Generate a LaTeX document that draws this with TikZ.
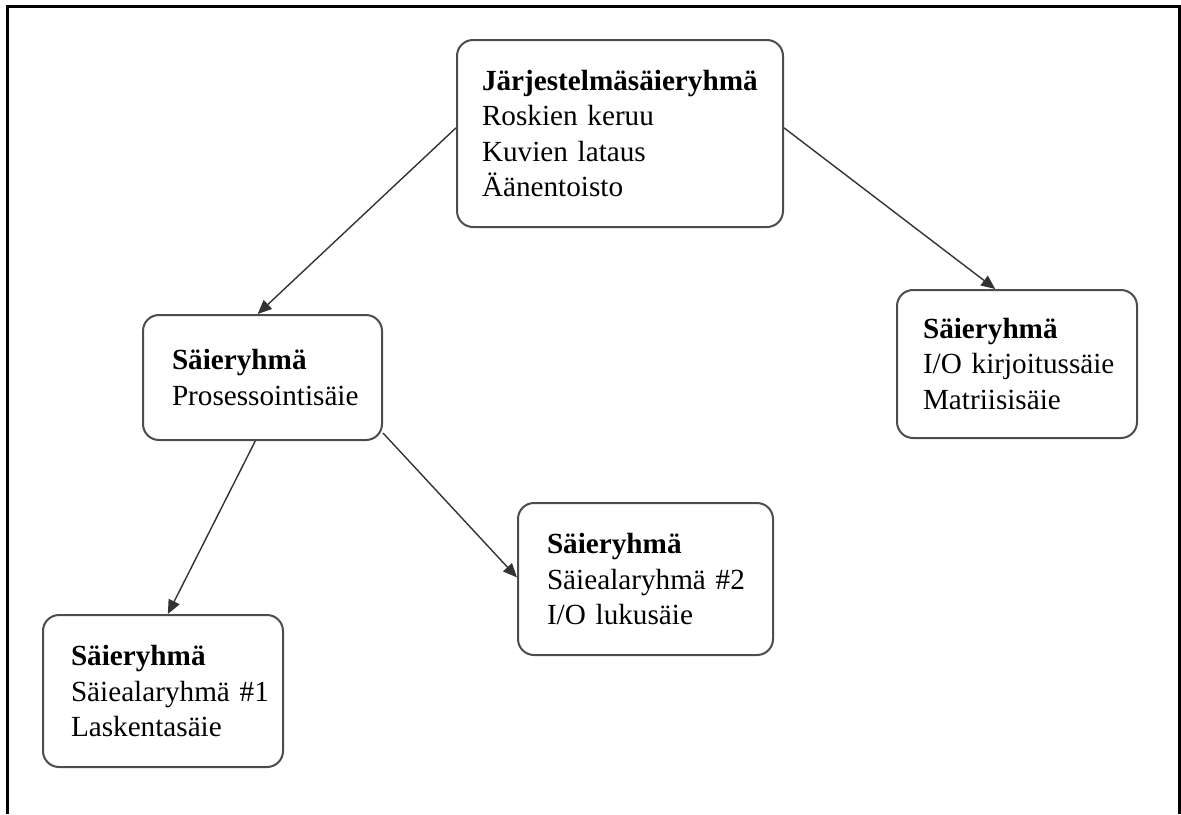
\documentclass[tikz,border=0pt]{standalone}
\usepackage{fontspec}
\setmainfont{Liberation Serif}
\usetikzlibrary{arrows.meta,calc}
\hbadness=10000 \hfuzz=100pt
\newcommand{\nohyph}{\hyphenpenalty=10000\relax\exhyphenpenalty=10000\relax}
\begin{document}
\begin{tikzpicture}[x=0.5pt,y=-0.5pt,
  grpbox/.style={draw=black!70, line width=1pt, rounded corners=8pt,
    fill=white, align=left, inner ysep=0pt,
    font=\fontsize{14.6}{17.8}\selectfont\nohyph},
  link/.style={draw=black!80, line width=0.7pt, -{Triangle[length=7pt,width=6pt]}}]
  \useasboundingbox (0,0) rectangle (1181,814);
  % open frame (no bottom edge)
  \draw[line width=1.5pt] (7,814) -- (7,6) -- (1179,6) -- (1179,814);

  % thread groups
  \node[grpbox, inner xsep=12.5pt, text width=138pt, minimum height=93.5pt] (sys) at (620,133.5)
    {\textbf{Järjestelmäsäieryhmä}\\Roskien~keruu\\Kuvien~lataus\\Äänentoisto};
  \node[grpbox, inner xsep=14.5pt, text width=90.5pt, minimum height=62.5pt] (proc) at (262.5,377.5)
    {\textbf{Säieryhmä}\\Prosessointisäie};
  \node[grpbox, inner xsep=13pt, text width=94pt, minimum height=74pt] (io) at (1017,364)
    {\textbf{Säieryhmä}\\I/O~kirjoitussäie\\Matriisisäie};
  \node[grpbox, inner xsep=14pt, text width=92pt, minimum height=76pt] (sub1) at (163,691)
    {\textbf{Säieryhmä}\\Säiealaryhmä~\#1\\Laskentasäie};
  \node[grpbox, inner xsep=14.5pt, text width=98.5pt, minimum height=76pt] (sub2) at (645.5,579)
    {\textbf{Säieryhmä}\\Säiealaryhmä~\#2\\I/O~lukusäie};

  % hierarchy links
  \draw[link] ($(sys.north west)!0.47!(sys.south west)$) -- ($(proc.north west)!0.48!(proc.north east)$);
  \draw[link] ($(sys.north east)!0.47!(sys.south east)$) -- ($(io.north west)!0.41!(io.north east)$);
  \draw[link] ($(proc.south west)!0.47!(proc.south east)$) -- ($(sub1.north west)!0.52!(sub1.north east)$);
  \draw[link] ($(proc.south east)+(0,-8)$) -- ($(sub2.north west)!0.49!(sub2.south west)$);
\end{tikzpicture}
\end{document}
